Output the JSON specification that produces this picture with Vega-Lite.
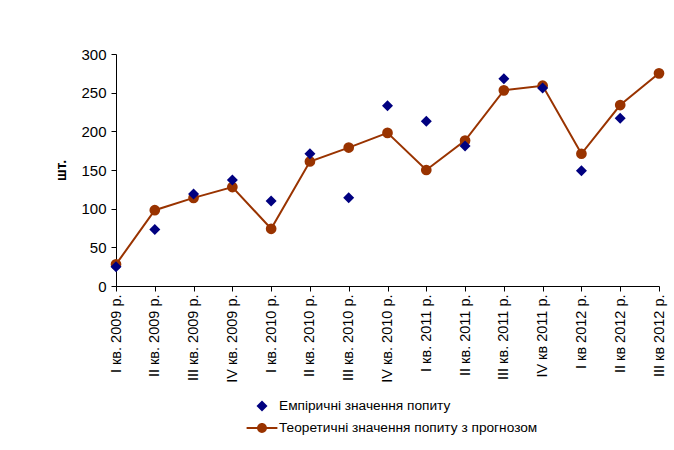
{
  "$schema": "https://vega.github.io/schema/vega-lite/v6.json",
  "width": 543,
  "height": 232,
  "autosize": "none",
  "padding": {"left": 116, "top": 54, "right": 15, "bottom": 164},
  "background": "white",
  "config": {
    "view": {"stroke": null},
    "font": "Liberation Sans",
    "axis": {"grid": false, "domainColor": "black", "tickColor": "black", "labelColor": "black", "titleColor": "black", "labelFont": "Liberation Sans", "titleFont": "Liberation Sans", "domainWidth": 1, "tickWidth": 1}
  },
  "data": {
    "values": [
      {"q": "I кв. 2009 р.", "s": "Емпіричні значення попиту", "v": 25},
      {"q": "II кв. 2009 р.", "s": "Емпіричні значення попиту", "v": 73},
      {"q": "III кв. 2009 р.", "s": "Емпіричні значення попиту", "v": 119},
      {"q": "IV кв. 2009 р.", "s": "Емпіричні значення попиту", "v": 137},
      {"q": "I кв. 2010 р.", "s": "Емпіричні значення попиту", "v": 110},
      {"q": "II кв. 2010 р.", "s": "Емпіричні значення попиту", "v": 171},
      {"q": "III кв. 2010 р.", "s": "Емпіричні значення попиту", "v": 114},
      {"q": "IV кв. 2010 р.", "s": "Емпіричні значення попиту", "v": 233},
      {"q": "I кв. 2011 р.", "s": "Емпіричні значення попиту", "v": 213},
      {"q": "II кв. 2011 р.", "s": "Емпіричні значення попиту", "v": 181},
      {"q": "III кв. 2011 р.", "s": "Емпіричні значення попиту", "v": 268},
      {"q": "IV кв 2011 р.", "s": "Емпіричні значення попиту", "v": 256},
      {"q": "I кв 2012 р.", "s": "Емпіричні значення попиту", "v": 149},
      {"q": "II кв 2012 р.", "s": "Емпіричні значення попиту", "v": 217},
      {"q": "I кв. 2009 р.", "s": "Теоретичні значення попиту з прогнозом", "v": 28},
      {"q": "II кв. 2009 р.", "s": "Теоретичні значення попиту з прогнозом", "v": 98},
      {"q": "III кв. 2009 р.", "s": "Теоретичні значення попиту з прогнозом", "v": 114},
      {"q": "IV кв. 2009 р.", "s": "Теоретичні значення попиту з прогнозом", "v": 128},
      {"q": "I кв. 2010 р.", "s": "Теоретичні значення попиту з прогнозом", "v": 74},
      {"q": "II кв. 2010 р.", "s": "Теоретичні значення попиту з прогнозом", "v": 161},
      {"q": "III кв. 2010 р.", "s": "Теоретичні значення попиту з прогнозом", "v": 179},
      {"q": "IV кв. 2010 р.", "s": "Теоретичні значення попиту з прогнозом", "v": 198},
      {"q": "I кв. 2011 р.", "s": "Теоретичні значення попиту з прогнозом", "v": 150},
      {"q": "II кв. 2011 р.", "s": "Теоретичні значення попиту з прогнозом", "v": 188},
      {"q": "III кв. 2011 р.", "s": "Теоретичні значення попиту з прогнозом", "v": 253},
      {"q": "IV кв 2011 р.", "s": "Теоретичні значення попиту з прогнозом", "v": 259},
      {"q": "I кв 2012 р.", "s": "Теоретичні значення попиту з прогнозом", "v": 171},
      {"q": "II кв 2012 р.", "s": "Теоретичні значення попиту з прогнозом", "v": 234},
      {"q": "III кв 2012 р.", "s": "Теоретичні значення попиту з прогнозом", "v": 275}
    ]
  },
  "encoding": {
    "x": {
      "field": "q",
      "type": "ordinal",
      "sort": ["I кв. 2009 р.", "II кв. 2009 р.", "III кв. 2009 р.", "IV кв. 2009 р.", "I кв. 2010 р.", "II кв. 2010 р.", "III кв. 2010 р.", "IV кв. 2010 р.", "I кв. 2011 р.", "II кв. 2011 р.", "III кв. 2011 р.", "IV кв 2011 р.", "I кв 2012 р.", "II кв 2012 р.", "III кв 2012 р."],
      "scale": {"type": "point", "padding": 0},
      "axis": {"title": null, "labelAngle": -90, "labelFontSize": 14.5, "tickSize": 5, "labelPadding": 3}
    },
    "y": {
      "field": "v",
      "type": "quantitative",
      "scale": {"domain": [0, 300], "nice": false},
      "axis": {"values": [0, 50, 100, 150, 200, 250, 300], "title": "шт.", "titleFontWeight": "bold", "titleFontSize": 14, "labelFontSize": 15, "tickSize": 5, "labelPadding": 5, "titlePadding": 12}
    }
  },
  "layer": [
    {
      "transform": [{"filter": "datum.s === 'Теоретичні значення попиту з прогнозом'"}],
      "mark": {"type": "line", "color": "#993300", "strokeWidth": 2}
    },
    {
      "transform": [{"filter": "datum.s === 'Теоретичні значення попиту з прогнозом'"}],
      "mark": {"type": "circle", "color": "#993300", "size": 115, "opacity": 1}
    },
    {
      "transform": [{"filter": "datum.s === 'Емпіричні значення попиту'"}],
      "mark": {"type": "point", "filled": true, "size": 484, "opacity": 1},
      "encoding": {
        "shape": {
          "field": "s",
          "type": "nominal",
          "scale": {
            "domain": ["Емпіричні значення попиту", "Теоретичні значення попиту з прогнозом"],
            "range": ["M0,-0.5L0.5,0L0,0.5L-0.5,0Z", "M-1.4,-0.09L1.4,-0.09L1.4,0.09L-1.4,0.09ZM0.45,0A0.45,0.45 0 1,1 -0.45,0A0.45,0.45 0 1,1 0.45,0Z"]
          },
          "legend": {
            "title": null,
            "orient": "none",
            "legendX": 135,
            "legendY": 341,
            "direction": "vertical",
            "labelFontSize": 13.7,
            "labelFont": "Liberation Sans",
            "labelColor": "black",
            "labelLimit": 0,
            "labelOffset": 6,
            "symbolSize": 484,
            "symbolStrokeWidth": 0,
            "rowPadding": 4,
            "padding": 0
          }
        },
        "color": {
          "field": "s",
          "type": "nominal",
          "scale": {
            "domain": ["Емпіричні значення попиту", "Теоретичні значення попиту з прогнозом"],
            "range": ["#000080", "#993300"]
          },
          "legend": {
            "title": null,
            "orient": "none",
            "legendX": 135,
            "legendY": 341,
            "direction": "vertical",
            "labelFontSize": 13.7,
            "labelFont": "Liberation Sans",
            "labelColor": "black",
            "labelLimit": 0,
            "labelOffset": 6,
            "symbolSize": 484,
            "symbolStrokeWidth": 0,
            "rowPadding": 4,
            "padding": 0
          }
        }
      }
    }
  ]
}
